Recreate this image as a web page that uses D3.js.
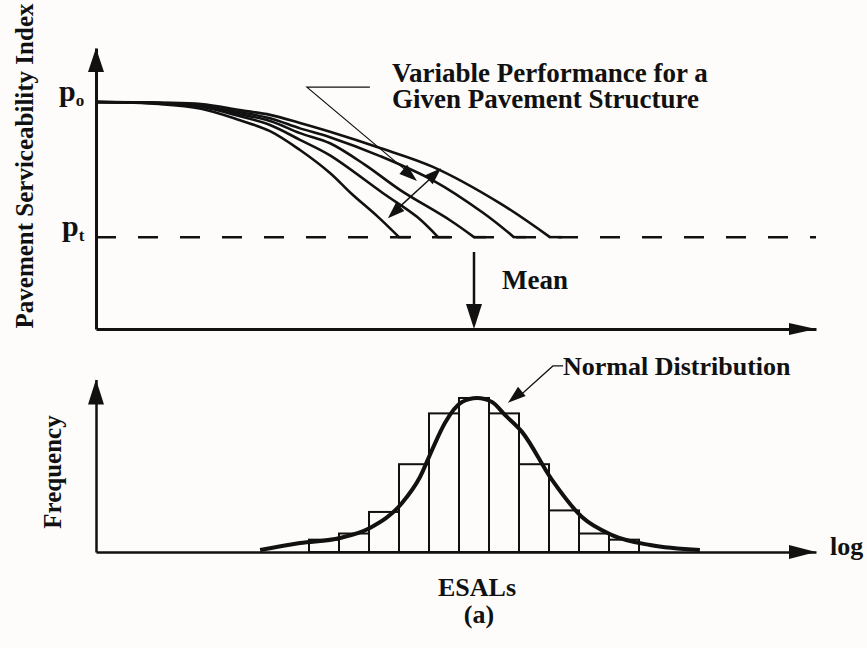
<!DOCTYPE html>
<html>
<head>
<meta charset="utf-8">
<script src="https://cdn.jsdelivr.net/npm/d3@7"></script>
<style>
  body { margin: 0; background: #fdfcfa; }
  svg { display: block; }
  text { font-family: 'Liberation Serif', 'Times New Roman', serif; font-weight: 700; fill: #111; }
</style>
</head>
<body>
<script>
// performance curves: log ESAL (0 = mean) vs serviceability
var P_O = 4.5
var P_T = 2.5
var MEAN = 0
var curveX = [
  [-12.6, -10.5, -9.1, -7.8, -6.8, -5.8, -4.8, -4.1, -3.2, -2.5],
  [-12.6, -10.5, -9.1, -7.8, -6.8, -5.8, -4.8, -3.03, -1.9, -1.2],
  [-12.6, -10.5, -9.1, -7.8, -6.8, -5.8, -4.8, -3.63, -2.47, -0.8, 0],
  [-12.6, -10.5, -9.1, -7.8, -6.8, -5.8, -4.8, -3.13, -1.37, 0.3, 1.33],
  [-12.6, -10.5, -9.1, -7.8, -6.8, -5.8, -4.8, -3.13, -1.37, 0.87, 2.53]
]
var curvePsi = [
  [4.5, 4.47, 4.40, 4.23, 4.07, 3.79, 3.45, 3.15, 2.80, 2.5],
  [4.5, 4.485, 4.43, 4.29, 4.16, 3.94, 3.71, 3.15, 2.80, 2.5],
  [4.5, 4.485, 4.44, 4.32, 4.22, 4.04, 3.89, 3.57, 3.20, 2.75, 2.5],
  [4.5, 4.49, 4.45, 4.35, 4.26, 4.11, 3.98, 3.70, 3.34, 2.86, 2.5],
  [4.5, 4.49, 4.47, 4.38, 4.31, 4.19, 4.06, 3.82, 3.54, 3.00, 2.5]
]

// histogram of log ESALs at failure
var binStart = [-5.5, -4.5, -3.5, -2.5, -1.5, -0.5, 0.5, 1.5, 2.5, 3.5, 4.5]
var binFreq = [8, 12, 26, 57, 90, 100, 90, 57, 27, 12, 8]

// fitted normal curve
var normX = [-7.13, -5.8, -4.47, -3.47, -2.4, -1.8, -1.4, -0.97, -0.4, 0.1, 0.6, 1.03, 1.6, 2.6, 3.6, 4.6, 5.87, 7.53]
var normF = [1.3, 5.8, 9.1, 15.6, 31.8, 48.7, 66.2, 83.8, 97.4, 100, 97.4, 89, 78, 46.8, 22.7, 11, 4.5, 1.3]

var width = 867
var height = 648

var svg = d3.select('body').append('svg')
  .attr('width', width)
  .attr('height', height)

var x = d3.scaleLinear().domain([-12.6, 11.4]).range([96, 816])
var yTop = d3.scaleLinear().domain([1.14, 5.3]).range([329, 48])
var yBot = d3.scaleLinear().domain([0, 112]).range([552, 379.5])

// triangle arrowhead pointing from (fx,fy) to tip (tx,ty)
function arrowHead (g, tx, ty, fx, fy, len, hw) {
  var a = Math.atan2(ty - fy, tx - fx)
  var bx = tx - len * Math.cos(a)
  var by = ty - len * Math.sin(a)
  var nx = -Math.sin(a) * hw
  var ny = Math.cos(a) * hw
  g.append('path')
    .attr('d', 'M' + tx + ',' + ty + 'L' + (bx + nx) + ',' + (by + ny) + 'L' + (bx - nx) + ',' + (by - ny) + 'Z')
    .attr('fill', '#111')
}

// ---- top panel ----
var topG = svg.append('g')

topG.append('g')
  .attr('transform', 'translate(' + x.range()[0] + ',0)')
  .call(d3.axisLeft(yTop).tickValues([]).tickSizeOuter(0))
  .select('.domain').attr('stroke', '#111').attr('stroke-width', 3)
arrowHead(topG, x.range()[0], yTop(5.3), x.range()[0], yTop(4), 24, 8)

topG.append('g')
  .attr('transform', 'translate(0,' + yTop(1.14) + ')')
  .call(d3.axisBottom(x).tickValues([]).tickSizeOuter(0))
  .select('.domain').attr('stroke', '#111').attr('stroke-width', 3)
arrowHead(topG, x.range()[1], yTop(1.14), x(0), yTop(1.14), 27, 6)

// terminal serviceability
topG.append('line')
  .attr('x1', x.range()[0]).attr('x2', x.range()[1])
  .attr('y1', yTop(P_T)).attr('y2', yTop(P_T))
  .attr('stroke', '#111').attr('stroke-width', 2.5)
  .attr('stroke-dasharray', '20,22')

var line = d3.line()
  .x(function (d) { return x(d[0]) })
  .y(function (d) { return yTop(d[1]) })
  .curve(d3.curveCatmullRom.alpha(0.5))

for (var i = 0; i < curveX.length; i++) {
  var pts = curveX[i].map(function (v, j) { return [v, curvePsi[i][j]] })
  topG.append('path')
    .attr('d', line(pts))
    .attr('fill', 'none')
    .attr('stroke', '#111')
    .attr('stroke-width', 2.6)
  // small tick where each curve meets p_t
  topG.append('line')
    .attr('x1', x(curveX[i][curveX[i].length - 1]) - 1).attr('x2', x(curveX[i][curveX[i].length - 1]) + 12)
    .attr('y1', yTop(P_T)).attr('y2', yTop(P_T))
    .attr('stroke', '#111').attr('stroke-width', 2.5)
}

// p labels
var po = topG.append('text').attr('x', 59).attr('y', yTop(P_O) - 1).style('font-size', '30px')
po.append('tspan').text('p')
po.append('tspan').attr('dy', 5).style('font-size', '17px').text('o')
var pt = topG.append('text').attr('x', 62).attr('y', yTop(P_T) - 1).style('font-size', '30px')
pt.append('tspan').text('p')
pt.append('tspan').attr('dy', 5).style('font-size', '17px').text('t')

topG.append('text')
  .attr('transform', 'translate(33,166) rotate(-90)')
  .attr('text-anchor', 'middle')
  .style('font-size', '25px')
  .text('Pavement Serviceability Index')

// mean arrow
topG.append('line')
  .attr('x1', x(MEAN)).attr('x2', x(MEAN))
  .attr('y1', yTop(2.28)).attr('y2', yTop(1.5))
  .attr('stroke', '#111').attr('stroke-width', 2.5)
arrowHead(topG, x(MEAN), yTop(1.14), x(MEAN), yTop(2), 25, 8)
topG.append('text').attr('x', 502).attr('y', 289).style('font-size', '27px').text('Mean')

// variable performance annotation
topG.append('path')
  .attr('d', d3.line()([[x(-3.47), yTop(4.72)], [x(-5.57), yTop(4.72)], [x(-2.3), yTop(3.5)]]))
  .attr('fill', 'none').attr('stroke', '#111').attr('stroke-width', 1.2)
arrowHead(topG, x(-1.9), yTop(3.33), x(-5.57), yTop(4.72), 18, 6)

topG.append('line')
  .attr('x1', x(-2.6)).attr('y1', yTop(2.9))
  .attr('x2', x(-1.35)).attr('y2', yTop(3.41))
  .attr('stroke', '#111').attr('stroke-width', 1.4)
arrowHead(topG, x(-2.87), yTop(2.78), x(-1.1), yTop(3.52), 17, 6)
arrowHead(topG, x(-1.1), yTop(3.52), x(-2.87), yTop(2.78), 17, 6)

topG.append('text').attr('x', 392).attr('y', 82).style('font-size', '27px').text('Variable Performance for a')
topG.append('text').attr('x', 392).attr('y', 108).style('font-size', '27px').text('Given Pavement Structure')

// ---- bottom panel ----
var botG = svg.append('g')

botG.append('g')
  .attr('transform', 'translate(' + x.range()[0] + ',0)')
  .call(d3.axisLeft(yBot).tickValues([]).tickSizeOuter(0))
  .select('.domain').attr('stroke', '#111').attr('stroke-width', 2.5)
arrowHead(botG, x.range()[0], yBot(112), x.range()[0], yBot(50), 25, 8)

botG.append('g')
  .attr('transform', 'translate(0,' + yBot(0) + ')')
  .call(d3.axisBottom(x).tickValues([]).tickSizeOuter(0))
  .select('.domain').attr('stroke', '#111').attr('stroke-width', 2.5)
arrowHead(botG, x.range()[1], yBot(0), x(0), yBot(0), 27, 7)

botG.selectAll('.bar')
  .data(binStart)
  .enter().append('rect')
  .attr('class', 'bar')
  .attr('x', function (d) { return x(d) })
  .attr('width', x(1) - x(0))
  .attr('y', function (d, i) { return yBot(binFreq[i]) })
  .attr('height', function (d, i) { return yBot(0) - yBot(binFreq[i]) })
  .attr('fill', 'none')
  .attr('stroke', '#111')
  .attr('stroke-width', 2)

var normLine = d3.line()
  .x(function (d) { return x(d[0]) })
  .y(function (d) { return yBot(d[1]) })
  .curve(d3.curveMonotoneX)
botG.append('path')
  .attr('d', normLine(normX.map(function (v, j) { return [v, normF[j]] })))
  .attr('fill', 'none')
  .attr('stroke', '#111')
  .attr('stroke-width', 4)

// normal distribution annotation
botG.append('path')
  .attr('d', d3.line()([[x(2.97), yBot(120.8)], [x(2.63), yBot(120.8)], [x(1.5), yBot(101)]]))
  .attr('fill', 'none').attr('stroke', '#111').attr('stroke-width', 1.2)
arrowHead(botG, x(1.13), yBot(96.8), x(2.63), yBot(120.8), 18, 6)
botG.append('text').attr('x', 563).attr('y', 375).style('font-size', '26px').text('Normal Distribution')

botG.append('text')
  .attr('transform', 'translate(61,472) rotate(-90)')
  .attr('text-anchor', 'middle')
  .style('font-size', '25px')
  .text('Frequency')

botG.append('text').attr('x', 830).attr('y', 555).style('font-size', '26px').text('log')
botG.append('text').attr('x', 477).attr('y', 596).attr('text-anchor', 'middle').style('font-size', '26px').text('ESALs')
botG.append('text').attr('x', 479).attr('y', 623).attr('text-anchor', 'middle').style('font-size', '26px').text('(a)')
</script>
</body>
</html>
